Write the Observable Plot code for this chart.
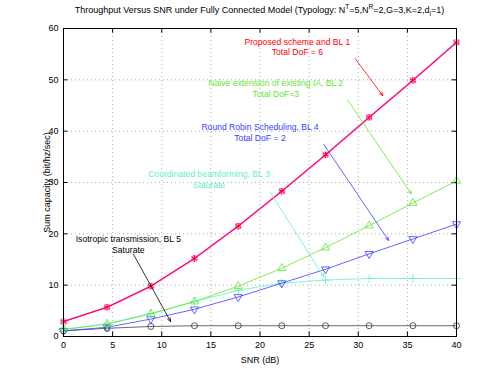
<!DOCTYPE html>
<html><head><meta charset="utf-8">
<script src="https://cdn.jsdelivr.net/npm/d3@7"></script>
<script src="https://cdn.jsdelivr.net/npm/@observablehq/plot@0.6"></script>
<style>
body{margin:0;background:#fff;font-family:"Liberation Sans",Arial,Helvetica,sans-serif;}
#title{position:absolute;left:63px;width:393px;top:4px;text-align:center;font-size:9px;line-height:12px;white-space:nowrap;color:#000;}
#title sup,#title sub{font-size:6.5px;line-height:0;}
#chart{position:absolute;left:0;top:20px;}
</style></head><body>
<div id="title">Throughput Versus SNR under Fully Connected Model (Typology: N<sup>T</sup>=5,N<sup>R</sup>=2,G=3,K=2,d<sub>i</sub>=1)</div>
<div id="chart"></div>
<script>
// ---- data ----
const snr = [0, 4.44, 8.89, 13.33, 17.78, 22.22, 26.67, 31.11, 35.56, 40];
const bl1 = [2.9, 5.7, 9.8, 15.2, 21.5, 28.3, 35.4, 42.7, 49.9, 57.3];
const bl2 = [1.4, 2.4, 4.4, 6.8, 9.8, 13.3, 17.3, 21.6, 26.0, 30.3];
const bl3 = [1.3, 2.5, 4.5, 6.8, 9.0, 10.4, 11.0, 11.3, 11.3, 11.3];
const bl4 = [1.1, 1.8, 3.4, 5.3, 7.7, 10.4, 13.1, 16.1, 19.0, 21.9];
const bl5 = [1.1, 1.6, 1.95, 2.1, 2.1, 2.1, 2.1, 2.1, 2.1, 2.1];
const xTicks = [0, 5, 10, 15, 20, 25, 30, 35, 40];
const yTicks = [0, 10, 20, 30, 40, 50, 60];

const noteText = [
  "Proposed scheme and BL 1\nTotal DoF = 6",
  "Naive extension of existing IA, BL 2\nTotal DoF=3",
  "Round Robin Scheduling, BL 4\nTotal DoF = 2",
  "Coordinated beamforming, BL 3\nSaturate",
  "Isotropic transmission, BL 5\nSaturate"
];
const noteX = [23.8, 21.6, 20.0, 14.8, 6.6];
const noteY = [56.5, 48.4, 39.8, 30.7, 18.0];
const arrowX1 = [29.7, 28.9, 26.5, 21.0, 7.1];
const arrowY1 = [54.1, 46.1, 37.4, 28.2, 16.1];
const arrowX2 = [32.5, 35.4, 33.1, 26.5, 10.9];
const arrowY2 = [46.9, 27.8, 18.7, 11.6, 2.9];

// ---- styles ----
const cRed = "#ff0000", cMag = "#ff44ff", cGreen = "#5ee82e", cCyan = "#62f0c8", cBlue = "#3a40ff", cBlack = "#000000";
const noteColors = [cRed, cGreen, cBlue, cCyan, cBlack];

const rows = vals => snr.map((x, i) => ({x, y: vals[i]}));

const triangleDown = {
  draw(context, size) {
    const y = -Math.sqrt(size / (Math.sqrt(3) * 3));
    context.moveTo(0, -y * 2);
    context.lineTo(-Math.sqrt(3) * y, y);
    context.lineTo(Math.sqrt(3) * y, y);
    context.closePath();
  }
};

const notes = noteText.map((t, i) => ({t, x: noteX[i], y: noteY[i], x1: arrowX1[i], y1: arrowY1[i], x2: arrowX2[i], y2: arrowY2[i]}));

const annotationMarks = notes.flatMap((n, i) => [
  Plot.text([n], {x: "x", y: "y", text: "t", fill: noteColors[i], fontSize: 8.6, lineHeight: 1.25, textAnchor: "middle"}),
  Plot.arrow([n], {x1: "x1", y1: "y1", x2: "x2", y2: "y2", stroke: noteColors[i], strokeWidth: 0.8, headLength: 7, headAngle: 45})
]);

const chart = Plot.plot({
  width: 503,
  height: 357,
  marginTop: 8,
  marginLeft: 63,
  marginRight: 47,
  marginBottom: 41,
  style: {fontFamily: "'Liberation Sans', Arial, Helvetica, sans-serif", fontSize: "9px", background: "#fff", color: "#000"},
  x: {domain: [0, 40]},
  y: {domain: [0, 60]},
  marks: [
    Plot.gridX(xTicks, {stroke: "#999", strokeOpacity: 1, strokeDasharray: "1,3", strokeWidth: 0.8}),
    Plot.gridY(yTicks, {stroke: "#999", strokeOpacity: 1, strokeDasharray: "1,3", strokeWidth: 0.8}),
    // inward tick marks on all four sides
    Plot.ruleX(xTicks, {x: d => d, y1: 0, y2: 0.9, stroke: "#000"}),
    Plot.ruleX(xTicks, {x: d => d, y1: 59.1, y2: 60, stroke: "#000"}),
    Plot.ruleY(yTicks, {y: d => d, x1: 0, x2: 0.45, stroke: "#000"}),
    Plot.ruleY(yTicks, {y: d => d, x1: 39.55, x2: 40, stroke: "#000"}),
    // series
    Plot.line(rows(bl5), {x: "x", y: "y", stroke: "#444", strokeWidth: 0.8}),
    Plot.dot(rows(bl5), {x: "x", y: "y", stroke: "#333", r: 3, strokeWidth: 0.8}),
    Plot.line(rows(bl3), {x: "x", y: "y", stroke: cCyan, strokeWidth: 0.8}),
    Plot.dot(rows(bl3), {x: "x", y: "y", stroke: cCyan, symbol: "plus", r: 3, strokeWidth: 0.8}),
    Plot.line(rows(bl4), {x: "x", y: "y", stroke: cBlue, strokeWidth: 0.8}),
    Plot.dot(rows(bl4), {x: "x", y: "y", stroke: cBlue, symbol: triangleDown, r: 3, strokeWidth: 0.8}),
    Plot.line(rows(bl2), {x: "x", y: "y", stroke: cGreen, strokeWidth: 0.8}),
    Plot.dot(rows(bl2), {x: "x", y: "y", stroke: cGreen, symbol: "triangle", r: 3, strokeWidth: 0.8}),
    Plot.line(rows(bl1), {x: "x", y: "y", stroke: cMag, strokeWidth: 1.6}),
    Plot.dot(rows(bl1), {x: "x", y: "y", stroke: cMag, symbol: "square", r: 2.8, strokeWidth: 0.9}),
    Plot.line(rows(bl1), {x: "x", y: "y", stroke: cRed, strokeWidth: 0.9}),
    Plot.dot(rows(bl1), {x: "x", y: "y", stroke: cRed, symbol: "asterisk", r: 3, strokeWidth: 1}),
    ...annotationMarks,
    Plot.frame({stroke: "#000", strokeWidth: 1}),
    Plot.axisX(xTicks, {tickSize: 0, tickPadding: 5, label: "SNR (dB)", labelAnchor: "center", labelArrow: "none", labelOffset: 26, fontSize: 9}),
    Plot.axisY(yTicks, {tickSize: 0, tickPadding: 5, label: "Sum capacity (bit/hz/sec)", labelAnchor: "center", labelArrow: "none", labelOffset: 20, fontSize: 9})
  ]
});
document.getElementById("chart").appendChild(chart);
</script></body></html>
